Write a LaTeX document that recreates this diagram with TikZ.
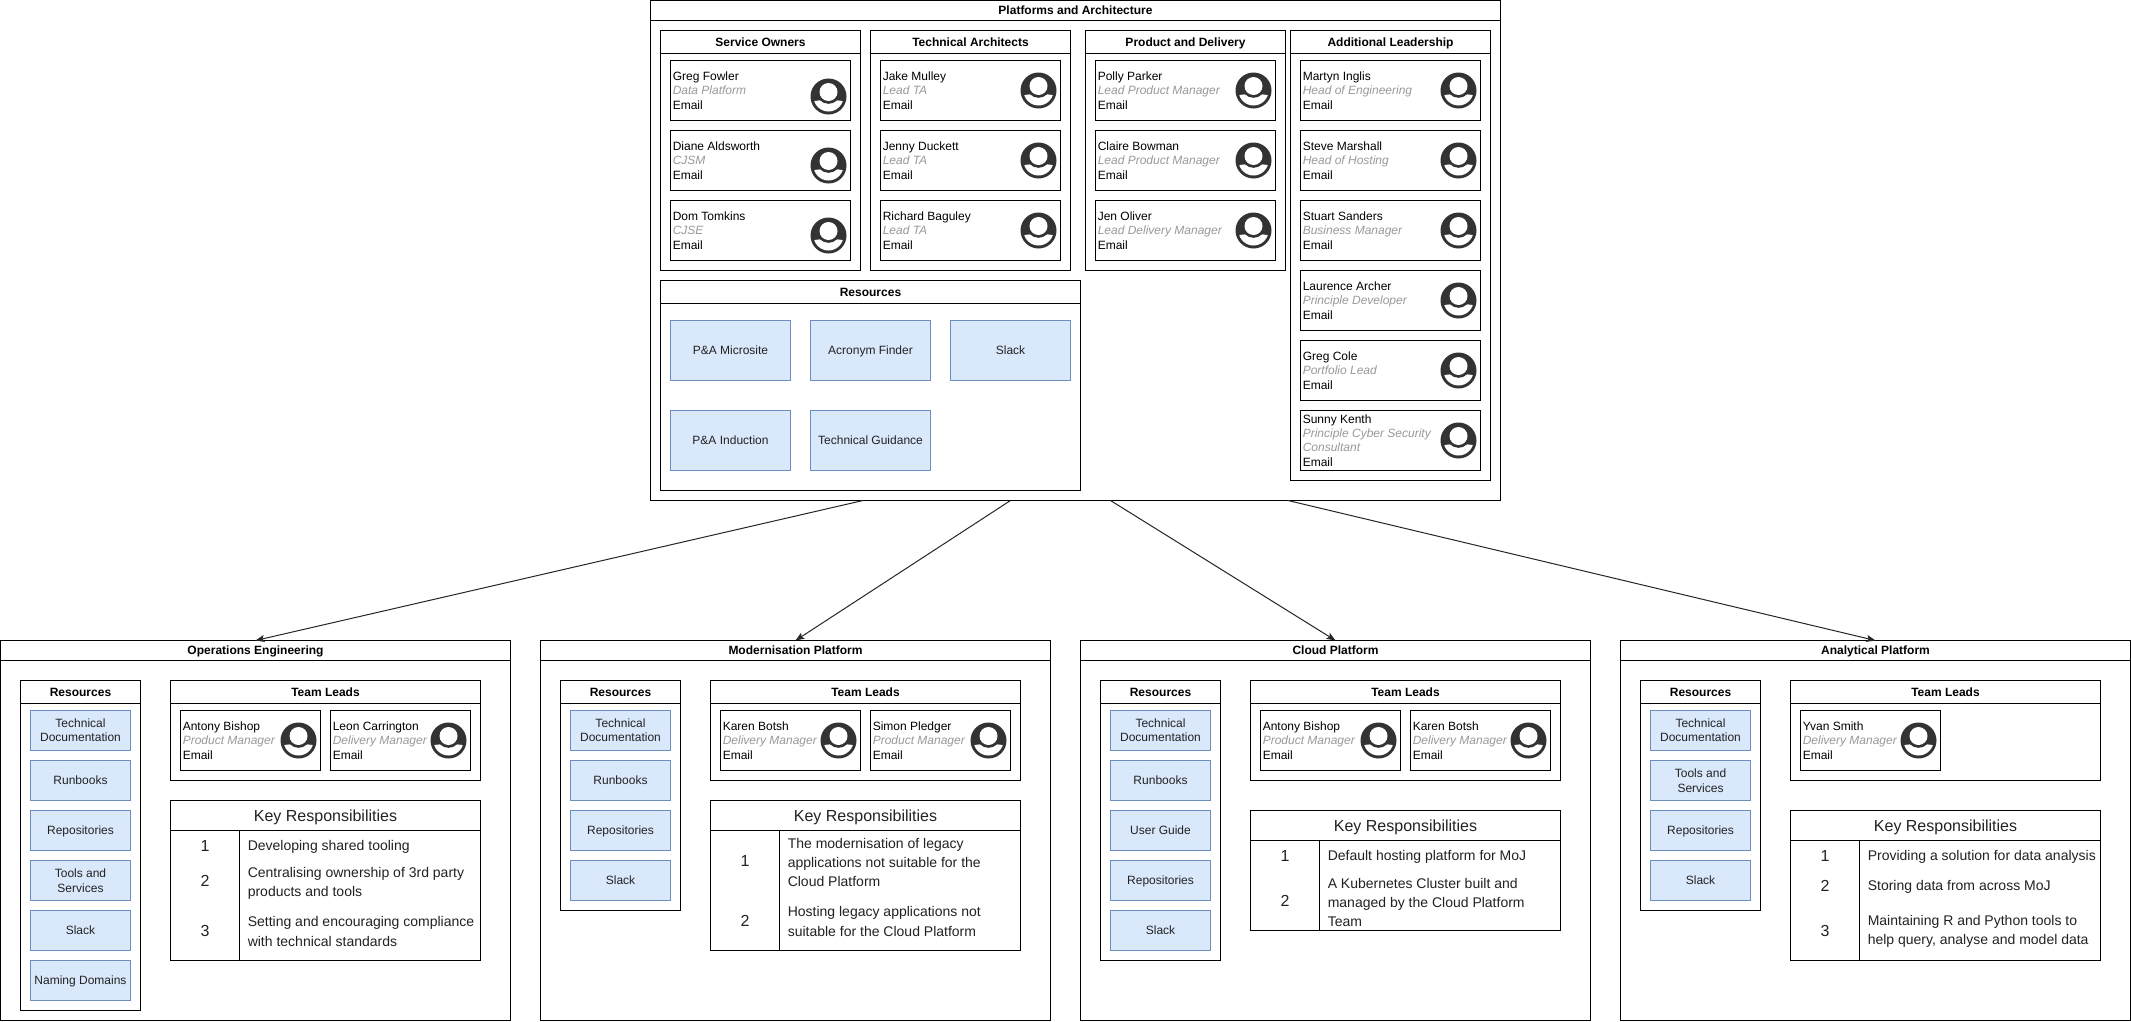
\documentclass[tikz,border=0pt]{standalone}
\usepackage{fontspec}
\setmainfont{Liberation Sans}
\usetikzlibrary{arrows.meta}
\definecolor{bluefill}{HTML}{DAE8FC}
\definecolor{bluedraw}{HTML}{6C8EBF}
\definecolor{iconcol}{HTML}{333333}
\definecolor{rolecol}{HTML}{999999}
\definecolor{softtext}{HTML}{222222}
\tikzset{
  x=0.75pt,y=-0.75pt,
  frame/.style={draw=black,line width=0.75pt,inner sep=0pt,outer sep=0pt,anchor=north west},
  blue box/.style={draw=bluedraw,fill=bluefill,line width=0.75pt,inner sep=0pt,outer sep=0pt,anchor=center,align=center,text=softtext,font=\fontsize{9}{10.8}\selectfont},
  title text/.style={inner sep=0pt,text height=6.5pt,text depth=0pt,font=\fontsize{9}{10.8}\selectfont\bfseries},
  person text/.style={inner sep=0pt,anchor=west,align=left,font=\fontsize{9}{10.8}\selectfont},
  key title/.style={inner sep=0pt,text=softtext,font=\fontsize{12}{14.4}\selectfont},
  key num/.style={inner sep=0pt,text=softtext,font=\fontsize{12}{14.4}\selectfont},
  key text/.style={inner sep=0pt,anchor=west,align=left,text=softtext,font=\fontsize{10.5}{14.6}\selectfont},
  link/.style={draw=black!85,line width=0.75pt,-{Stealth[length=6.75pt,width=5.25pt,inset=1.5pt]}},
}
\newcommand\nodepth[1]{\raisebox{0pt}[\height][0pt]{#1}}
% name, x, y, w, h, title height, title
\newcommand\lane[7]{%
  \node[frame,minimum width=#4*0.75pt,minimum height=#5*0.75pt] (#1) at (#2,#3) {};
  \draw[line width=0.75pt] (#2,{#3+#6}) -- ({#2+#4},{#3+#6});
  \node[title text] (#1-title) at ({#2+#4/2},{#3+#6/2}) {#7};
}
\newcommand\usericon[2]{%
  \begin{scope}[shift={(#1,#2)}]
    \fill[iconcol] (0,0) circle[radius=18];
    \begin{scope}
      \clip (0,0) circle[radius=15];
      \fill[white] (-16,5) .. controls (-8,3) and (8,3) .. (16,5) -- (16,16) -- (-16,16) -- cycle;
    \end{scope}
    \fill[iconcol] (0,-4.5) circle[radius=11.8];
    \fill[white] (0,-4.5) circle[radius=9];
  \end{scope}
}
% name, x, y, w, icon dy, text
\newcommand\person[6]{%
  \node[frame,minimum width=#4*0.75pt,minimum height=45pt] (#1) at (#2,#3) {};
  \node[person text] (#1-text) at ({#2+2},{#3+30}) {#6};
  \usericon{{#2+#4-22}}{{#3+#5}}
}
\newcommand\role[1]{\textcolor{rolecol}{\itshape #1}}
% name, x, y, w, h, text
\newcommand\bluebox[6]{%
  \node[blue box,minimum width=#4*0.75pt,minimum height=#5*0.75pt] (#1) at ({#2+#4/2},{#3+#5/2}) {#6};
}
% prefix, y, h
\newcommand\keytable[3]{%
  \node[frame,minimum width=232.5pt,minimum height=#3*0.75pt] (#1-key) at (170,#2) {};
  \draw[line width=0.75pt] (170,{#2+30}) -- (480,{#2+30});
  \draw[line width=0.75pt] (239,{#2+30}) -- (239,{#2+#3});
  \node[key title] (#1-keytitle) at (325,{#2+16.5}) {Key Responsibilities};
}
% name, num y, num, text y, text
\newcommand\keyrow[5]{%
  \node[key num] (#1-n) at (204.5,#2) {#3};
  \node[key text] (#1-t) at (247,#4) {#5};
}
\begin{document}
\begin{tikzpicture}
\useasboundingbox[fill=white] (-0.5,-0.5) rectangle (2130.5,1020.5);

% ---------- Platforms and Architecture ----------
\lane{top}{650}{0}{850}{500}{20}{Platforms and Architecture}

\lane{so}{660}{30}{200}{240}{23}{Service Owners}
\person{so1}{670}{60}{180}{36}{Greg Fowler\\\role{Data Platform}\\Email}
\person{so2}{670}{130}{180}{35}{Diane Aldsworth\\\role{CJSM}\\Email}
\person{so3}{670}{200}{180}{35}{Dom Tomkins\\\role{CJSE}\\Email}

\lane{ta}{870}{30}{200}{240}{23}{Technical Architects}
\person{ta1}{880}{60}{180}{30}{Jake Mulley\\\role{Lead TA}\\Email}
\person{ta2}{880}{130}{180}{30}{Jenny Duckett\\\role{Lead TA}\\Email}
\person{ta3}{880}{200}{180}{30}{Richard Baguley\\\role{Lead TA}\\Email}

\lane{pd}{1085}{30}{200}{240}{23}{Product and Delivery}
\person{pd1}{1095}{60}{180}{30}{Polly Parker\\\role{Lead Product Manager}\\Email}
\person{pd2}{1095}{130}{180}{30}{Claire Bowman\\\role{Lead Product Manager}\\Email}
\person{pd3}{1095}{200}{180}{30}{Jen Oliver\\\role{Lead Delivery Manager}\\Email}

\lane{al}{1290}{30}{200}{450}{23}{Additional Leadership}
\person{al1}{1300}{60}{180}{30}{Martyn Inglis\\\role{Head of Engineering}\\Email}
\person{al2}{1300}{130}{180}{30}{Steve Marshall\\\role{Head of Hosting}\\Email}
\person{al3}{1300}{200}{180}{30}{Stuart Sanders\\\role{Business Manager}\\Email}
\person{al4}{1300}{270}{180}{30}{Laurence Archer\\\role{Principle Developer}\\Email}
\person{al5}{1300}{340}{180}{30}{Greg Cole\\\role{Portfolio Lead}\\Email}
\person{al6}{1300}{410}{180}{30}{Sunny Kenth\\\role{Principle Cyber Security}\\\role{Consultant}\\Email}

\lane{tr}{660}{280}{420}{210}{23}{Resources}
\bluebox{tr1}{670}{320}{120}{60}{P\&A Microsite}
\bluebox{tr2}{810}{320}{120}{60}{\nodepth{Acronym Finder}}
\bluebox{tr3}{950}{320}{120}{60}{Slack}
\bluebox{tr4}{670}{410}{120}{60}{P\&A Induction}
\bluebox{tr5}{810}{410}{120}{60}{Technical Guidance}

% ---------- Operations Engineering ----------
\begin{scope}
\lane{ops}{0}{640}{510}{380}{20}{Operations Engineering}
\lane{ops-res}{20}{680}{120}{330}{23}{Resources}
\bluebox{ops-r1}{30}{710}{100}{40}{Technical\\Documentation}
\bluebox{ops-r2}{30}{760}{100}{40}{Runbooks}
\bluebox{ops-r3}{30}{810}{100}{40}{\nodepth{Repositories}}
\bluebox{ops-r4}{30}{860}{100}{40}{Tools and\\Services}
\bluebox{ops-r5}{30}{910}{100}{40}{Slack}
\bluebox{ops-r6}{30}{960}{100}{40}{\nodepth{Naming Domains}}
\lane{ops-tl}{170}{680}{310}{100}{23}{Team Leads}
\person{ops-p1}{180}{710}{140}{30}{Antony Bishop\\\role{Product Manager}\\Email}
\person{ops-p2}{330}{710}{140}{30}{Leon Carrington\\\role{Delivery Manager}\\Email}
\keytable{ops}{800}{160}
\keyrow{ops-k1}{845}{1}{846}{Developing shared tooling}
\keyrow{ops-k2}{880}{2}{883}{Centralising ownership of 3rd party\\products and tools}
\keyrow{ops-k3}{930}{3}{931}{Setting and encouraging compliance\\with technical standards}
\end{scope}

% ---------- Modernisation Platform ----------
\begin{scope}[shift={(540,0)}]
\lane{mod}{0}{640}{510}{380}{20}{Modernisation Platform}
\lane{mod-res}{20}{680}{120}{230}{23}{Resources}
\bluebox{mod-r1}{30}{710}{100}{40}{Technical\\Documentation}
\bluebox{mod-r2}{30}{760}{100}{40}{Runbooks}
\bluebox{mod-r3}{30}{810}{100}{40}{\nodepth{Repositories}}
\bluebox{mod-r4}{30}{860}{100}{40}{Slack}
\lane{mod-tl}{170}{680}{310}{100}{23}{Team Leads}
\person{mod-p1}{180}{710}{140}{30}{Karen Botsh\\\role{Delivery Manager}\\Email}
\person{mod-p2}{330}{710}{140}{30}{Simon Pledger\\\role{Product Manager}\\Email}
\keytable{mod}{800}{150}
\keyrow{mod-k1}{860}{1}{862}{The modernisation of legacy\\applications not suitable for the\\Cloud Platform}
\keyrow{mod-k2}{920}{2}{921}{Hosting legacy applications not\\suitable for the Cloud Platform}
\end{scope}

% ---------- Cloud Platform ----------
\begin{scope}[shift={(1080,0)}]
\lane{cld}{0}{640}{510}{380}{20}{Cloud Platform}
\lane{cld-res}{20}{680}{120}{280}{23}{Resources}
\bluebox{cld-r1}{30}{710}{100}{40}{Technical\\Documentation}
\bluebox{cld-r2}{30}{760}{100}{40}{Runbooks}
\bluebox{cld-r3}{30}{810}{100}{40}{User Guide}
\bluebox{cld-r4}{30}{860}{100}{40}{\nodepth{Repositories}}
\bluebox{cld-r5}{30}{910}{100}{40}{Slack}
\lane{cld-tl}{170}{680}{310}{100}{23}{Team Leads}
\person{cld-p1}{180}{710}{140}{30}{Antony Bishop\\\role{Product Manager}\\Email}
\person{cld-p2}{330}{710}{140}{30}{Karen Botsh\\\role{Delivery Manager}\\Email}
\keytable{cld}{810}{120}
\keyrow{cld-k1}{855}{1}{856}{Default hosting platform for MoJ}
\keyrow{cld-k2}{900}{2}{902}{A Kubernetes Cluster built and\\managed by the Cloud Platform\\Team}
\end{scope}

% ---------- Analytical Platform ----------
\begin{scope}[shift={(1620,0)}]
\lane{ana}{0}{640}{510}{380}{20}{Analytical Platform}
\lane{ana-res}{20}{680}{120}{230}{23}{Resources}
\bluebox{ana-r1}{30}{710}{100}{40}{Technical\\Documentation}
\bluebox{ana-r2}{30}{760}{100}{40}{Tools and\\Services}
\bluebox{ana-r3}{30}{810}{100}{40}{\nodepth{Repositories}}
\bluebox{ana-r4}{30}{860}{100}{40}{Slack}
\lane{ana-tl}{170}{680}{310}{100}{23}{Team Leads}
\person{ana-p1}{180}{710}{140}{30}{Yvan Smith\\\role{Delivery Manager}\\Email}
\keytable{ana}{810}{150}
\keyrow{ana-k1}{855}{1}{856}{Providing a solution for data analysis}
\keyrow{ana-k2}{885}{2}{886}{Storing data from across MoJ}
\keyrow{ana-k3}{930}{3}{931}{Maintaining R and Python tools to\\help query, analyse and model data}
\end{scope}

% ---------- Connectors ----------
\coordinate (out1) at (862.5,500);
\coordinate (out2) at (1010,500);
\coordinate (out3) at (1110,500);
\coordinate (out4) at (1287.5,500);
\draw[link] (out1) -- (ops.north);
\draw[link] (out2) -- (mod.north);
\draw[link] (out3) -- (cld.north);
\draw[link] (out4) -- (ana.north);
\end{tikzpicture}
\end{document}
